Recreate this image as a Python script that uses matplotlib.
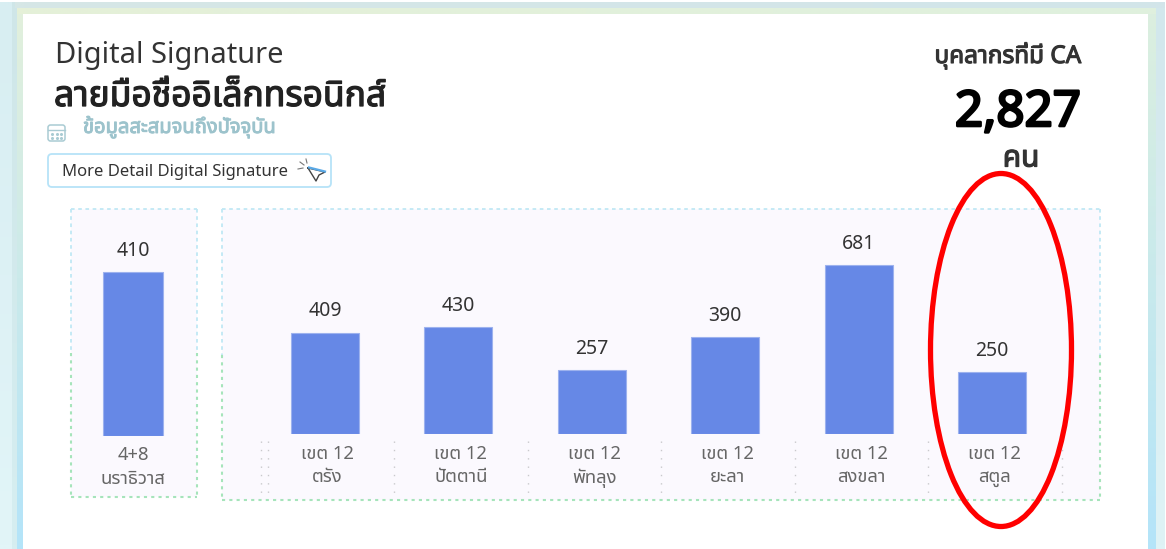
import matplotlib
matplotlib.use("Agg")
import matplotlib.pyplot as plt
import matplotlib.patheffects as pe
import numpy as np
from matplotlib.colors import to_rgb
from matplotlib.patches import Rectangle, FancyBboxPatch, Ellipse
from matplotlib.transforms import ScaledTranslation

W, H = 1166, 549

left_labels = ["4+8\nนราธิวาส"]
left_values = [410]
right_labels = ["เขต 12\nตรัง", "เขต 12\nปัตตานี", "เขต 12\nพัทลุง", "เขต 12\nยะลา", "เขต 12\nสงขลา", "เขต 12\nสตูล"]
right_values = [409, 430, 257, 390, 681, 250]

BAR = "#6688e6"
THAI = ["Noto Sans Thai", "Noto Sans", "DejaVu Sans"]
plt.rcParams["font.family"] = THAI


def px_axes(fig, x0, y0, x1, y1, **kw):
    """Axes placed by pixel box, y counted from the top of the picture."""
    return fig.add_axes([x0 / W, 1 - y1 / H, (x1 - x0) / W, (y1 - y0) / H], **kw)


def strip(ax, x0, y0, x1, y1, c_start, c_end, horizontal=False):
    """Fill a box with a two colour gradient."""
    t = np.linspace(0, 1, 64)[:, None]
    img = (1 - t) * np.array(to_rgb(c_start)) + t * np.array(to_rgb(c_end))
    img = img[None, :, :] if horizontal else img[:, None, :]
    ax.imshow(img, extent=(x0, x1, y1, y0), aspect="auto", interpolation="bilinear")


def bold(color, lw=0.7):
    # these fonts only come in one weight here, so thicken with a stroke
    return [pe.withStroke(linewidth=lw, foreground=color)]


fig = plt.figure(figsize=(W / 100, H / 100), dpi=100, facecolor="white")

# page background and card
bg = px_axes(fig, 0, 0, W, H, zorder=0)
strip(bg, 0, 2, 15, H, "#d8eef2", "#e2f5f8")
strip(bg, 12, 2, 17, H, "#cfe6e8", "#d6eef1", horizontal=False)
strip(bg, 17, 8, 23, H, "#e2f0dc", "#b4e4f9")
strip(bg, 1148, 8, 1156, H, "#dcefdf", "#b4e4f9")
strip(bg, 1156, 2, 1165, H, "#d2e7ec", "#dff3f6")
strip(bg, 15, 2, 1165, 8, "#d6e7e6", "#d2e5ea", horizontal=True)
strip(bg, 17, 8, 1156, 14, "#e5f0d8", "#dff0de", horizontal=True)
bg.add_patch(Rectangle((23, 14), 1125, H, fc="white", ec="none"))
bg.set_xlim(0, W)
bg.set_ylim(H, 0)
bg.axis("off")

# dotted panels
for x0, y0, x1, y1 in [(71, 209, 197, 497), (222, 209, 1100, 500)]:
    bg.add_patch(Rectangle((x0, y0), x1 - x0, y1 - y0, fc="#fbf9fe", ec="none"))
    mid = (y0 + y1) / 2
    blue = dict(color="#c0e8f5", lw=1.3, ls=(0, (2, 2)))
    green = dict(color="#a6e4bb", lw=1.5, ls=(0, (1.5, 2)))
    bg.plot([x0, x1], [y0, y0], **blue)
    bg.plot([x0, x0], [y0, mid], **blue)
    bg.plot([x1, x1], [y0, mid], **blue)
    bg.plot([x0, x1], [y1, y1], **green)
    bg.plot([x0, x0], [mid, y1], **green)
    bg.plot([x1, x1], [mid, y1], **green)

for x in [261, 268, 394, 528, 661, 795, 928, 1062]:
    bg.plot([x, x], [441, 495], color="#c9c9cc", lw=1, ls=(0, (1, 5)))

# bars
ax_left = px_axes(fig, 71, 209, 197, 436, zorder=1)
ax_left.set_xlim(-0.62, 0.64)
ax_left.set_ylim(0, 567.5)
bars = ax_left.bar(range(len(left_values)), left_values, width=0.6, color=BAR, edgecolor="#9db2ee", linewidth=0.8)
ax_left.bar_label(bars, padding=8, fontsize=14, color="#333333")

ax_right = px_axes(fig, 222, 209, 1100, 434, zorder=1)
ax_right.set_xlim(-0.772, 5.81)
ax_right.set_ylim(0, 907)
bars = ax_right.bar(range(len(right_values)), right_values, width=0.51, color=BAR, edgecolor="#9db2ee", linewidth=0.8)
ax_right.bar_label(bars, padding=8, fontsize=14, color="#333333")

for ax, labels, pad, spacing in [(ax_left, left_labels, 7, 1.42), (ax_right, right_labels, 8, 1.36)]:
    ax.patch.set_alpha(0)
    for s in ax.spines.values():
        s.set_visible(False)
    ax.set_yticks([])
    ax.set_xticks(range(len(labels)), labels, fontsize=13.3, color="#666666", linespacing=spacing)
    ax.tick_params(axis="x", length=0, pad=pad)

# the labels of the right chart sit a little to the right of their bars
shift = ScaledTranslation(2.5 / 100, 0, fig.dpi_scale_trans)
for lab in ax_right.get_xticklabels():
    lab.set_transform(lab.get_transform() + shift)

# header, button, big number, ellipse
top = px_axes(fig, 0, 0, W, H, zorder=2)
top.set_xlim(0, W)
top.set_ylim(H, 0)
top.axis("off")
top.patch.set_alpha(0)

top.text(55, 55, "Digital Signature", fontsize=20.9, color="#333333", va="center")
top.text(54, 97, "ลายมือชื่ออิเล็กทรอนิกส์", fontsize=25.5, color="#222222", va="center",
         path_effects=bold("#222222", 0.9))
top.text(83, 127, "ข้อมูลสะสมจนถึงปัจจุบัน", fontsize=14.5, color="#9cc3cc", va="center",
         path_effects=bold("#9cc3cc"))
top.text(1008, 56, "บุคลากรที่มี CA", fontsize=17.5, color="#333333", ha="center", va="center",
         path_effects=bold("#333333", 0.8))
top.text(1018, 113, "2,827", fontsize=35.5, family=["Noto Sans", "DejaVu Sans"],
         color="black", ha="center", va="center", path_effects=bold("black", 1.9))
top.text(1021, 159, "คน", fontsize=21.5, color="#333333", ha="center", va="center",
         path_effects=bold("#333333", 0.9))

# calendar icon
top.add_patch(FancyBboxPatch((48, 125), 17, 16, boxstyle="round,pad=0,rounding_size=2.5", fc="none", ec="#a9cbd3", lw=1.1))
top.plot([48, 65], [130, 130], color="#a9cbd3", lw=1)
top.scatter([52, 56.5, 61, 52, 56.5, 61], [134, 134, 134, 137.5, 137.5, 137.5], s=1.5, color="#a9cbd3")

# button
top.add_patch(FancyBboxPatch((48, 154), 283, 33, boxstyle="round,pad=0,rounding_size=4", fc="white", ec="#b6e3f8", lw=1.3))
top.text(62, 172, "More Detail Digital Signature", fontsize=12, color="#333333", va="center")
top.plot([308, 325, 319, 316, 308], [168, 172, 175, 181, 168], color="#444444", lw=1)
top.plot([309, 325], [167.5, 171.5], color="#5aa9e6", lw=1.6)
for seg in [([298, 303], [169, 168]), ([300, 304], [162, 165]), ([306, 307], [159, 163])]:
    top.plot(seg[0], seg[1], color="#777777", lw=0.8)

# red circle drawn on top of the chart
top.add_patch(Ellipse((1001, 350), 141, 353, fc="none", ec="#ff0000", lw=3.8))

fig.savefig("out.png", dpi=100)
